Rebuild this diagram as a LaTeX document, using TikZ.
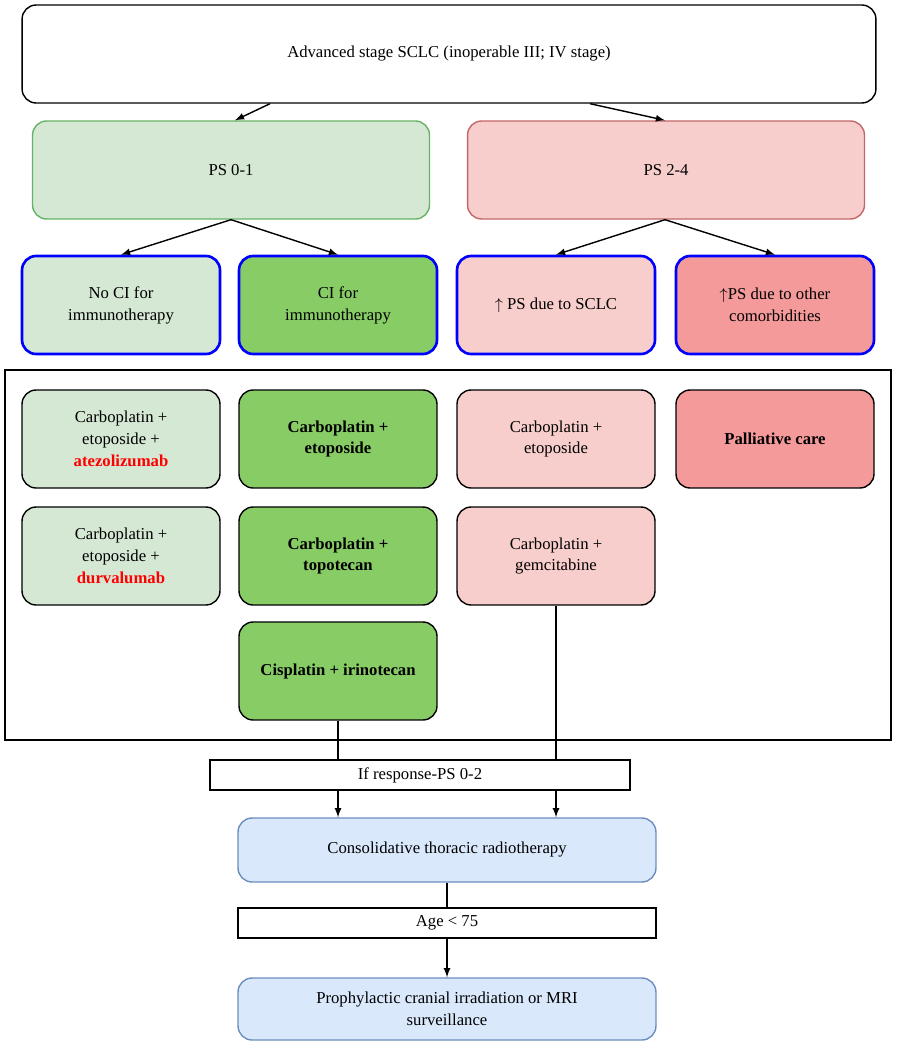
\documentclass[tikz,border=0pt]{standalone}
\usepackage{fontspec}
\setmainfont{Liberation Serif}
\definecolor{gfill}{HTML}{D5E8D4}
\definecolor{gdark}{HTML}{88CC66}
\definecolor{pfill}{HTML}{F8CECC}
\definecolor{pdark}{HTML}{F59A9A}
\definecolor{bfill}{HTML}{DAE8FC}
\definecolor{bline}{HTML}{6C8EBF}
\tikzstyle{box}=[rectangle, rounded corners=8pt, draw=black, line width=0.8pt, align=center, font=\fontsize{9.5}{12.5}\selectfont, inner sep=2pt]
\tikzstyle{tbox}=[box, minimum width=7.94cm, minimum height=1.96cm]
\tikzstyle{mbox}=[box, minimum width=3.96cm, minimum height=1.96cm]
\tikzstyle{cibox}=[mbox, draw=blue, line width=1.5pt]
\tikzstyle{plain}=[rectangle, draw=black, line width=0.8pt, font=\fontsize{9.5}{12.5}\selectfont, inner sep=2pt]
\tikzstyle{l1}=[line width=0.8pt]
\tikzstyle{arr}=[l1, -latex]
\newcommand{\hl}[1]{\textcolor{red}{\textbf{#1}}}

\begin{document}
\begin{tikzpicture}[x=0.02cm, y=-0.02cm]
    \useasboundingbox (0,0) rectangle (896,1047);
    \node[box, minimum width=17.08cm, minimum height=1.96cm] at (449,54) (top) {Advanced stage SCLC (inoperable III; IV stage)};
    \node[tbox, fill=gfill, draw=green!50!black!60] at (231,170) (ps01) {PS 0-1};
    \node[tbox, fill=pfill, draw=red!60!black!60] at (666,170) (ps24) {PS 2-4};

    \node[cibox, fill=gfill] at (121,305) (noci) {No CI for\\immunotherapy};
    \node[cibox, fill=gdark] at (338,305) (ci) {CI for\\immunotherapy};
    \node[cibox, fill=pfill] at (556,305) (sclc) {$\uparrow$ PS due to SCLC};
    \node[cibox, fill=pdark] at (775,305) (como) {$\uparrow$PS due to other\\comorbidities};

    \draw[l1] (5,370) rectangle (891,740);
    \node[mbox, fill=gfill] at (121,439) (ate) {Carboplatin +\\etoposide +\\\hl{atezolizumab}};
    \node[mbox, fill=gfill] at (121,556) (dur) {Carboplatin +\\etoposide +\\\hl{durvalumab}};
    \node[mbox, fill=gdark, font=\fontsize{9.5}{12.5}\selectfont\bfseries] at (338,439) (ceto) {Carboplatin +\\etoposide};
    \node[mbox, fill=gdark, font=\fontsize{9.5}{12.5}\selectfont\bfseries] at (338,556) (ctop) {Carboplatin +\\topotecan};
    \node[mbox, fill=gdark, font=\fontsize{9.5}{12.5}\selectfont\bfseries] at (338,671) (cis) {Cisplatin + irinotecan};
    \node[mbox, fill=pfill] at (556,439) (peto) {Carboplatin +\\etoposide};
    \node[mbox, fill=pfill] at (556,556) (pgem) {Carboplatin +\\gemcitabine};
    \node[mbox, fill=pdark, font=\fontsize{9.5}{12.5}\selectfont\bfseries] at (775,439) (pall) {Palliative care};

    \node[plain, minimum width=8.4cm, minimum height=0.6cm] at (420,775) (resp) {If response-PS 0-2};
    \node[box, fill=bfill, draw=bline, minimum width=8.36cm, minimum height=1.28cm] at (447,850) (ctr) {Consolidative thoracic radiotherapy};
    \node[plain, minimum width=8.36cm, minimum height=0.6cm] at (447,923) (age) {Age < 75};
    \node[box, fill=bfill, draw=bline, minimum width=8.36cm, minimum height=1.24cm] at (447,1009) (pci) {Prophylactic cranial irradiation or MRI\\surveillance};

    \draw[arr] (top.south -| 270,0) -- (ps01.north -| 235,0);
    \draw[arr] (top.south -| 590,0) -- (ps24.north -| 665,0);
    \draw[arr] (ps01.south) -- (noci.north);
    \draw[arr] (ps01.south) -- (ci.north);
    \draw[arr] (ps24.south -| 665,0) -- (sclc.north);
    \draw[arr] (ps24.south -| 665,0) -- (como.north);
    \draw[l1] (cis.south) -- (resp.north -| cis.south);
    \draw[l1] (pgem.south) -- (resp.north -| pgem.south);
    \draw[arr] (resp.south -| cis.south) -- (ctr.north -| cis.south);
    \draw[arr] (resp.south -| pgem.south) -- (ctr.north -| pgem.south);
    \draw[l1] (ctr.south) -- (age.north);
    \draw[arr] (age.south) -- (pci.north);
\end{tikzpicture}
\end{document}
